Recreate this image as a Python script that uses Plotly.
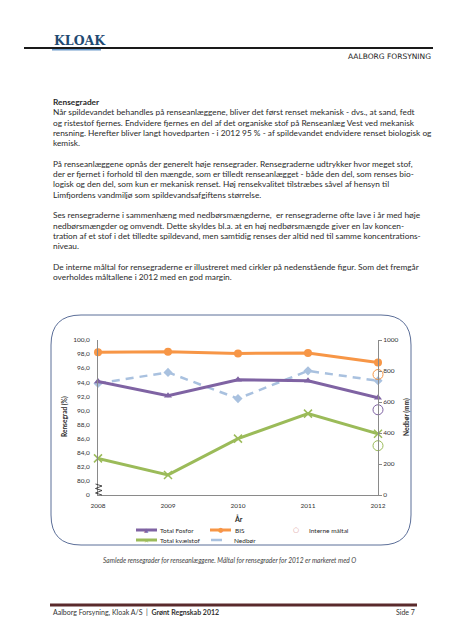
import plotly.graph_objects as go

# ---------------- data ----------------
years = [2008, 2009, 2010, 2011, 2012]
year_labels = ["2008", "2009", "2010", "2011", "2012"]
total_fosfor = [94.1, 92.1, 94.35, 94.2, 91.8]
bis = [98.25, 98.35, 98.1, 98.15, 96.8]
total_kvaelstof = [83.2, 80.85, 86.0, 89.55, 86.7]
nedboer = [720, 791, 622, 801, 737]
maal_years = [2012, 2012, 2012]
maal_values = [95.1, 90.1, 85.0]          # BIS, Total Fosfor, Total kvælstof
left_tickvals = [78, 80, 82, 84, 86, 88, 90, 92, 94, 96, 98, 100]
left_ticktext = ["0", "80,0", "82,0", "84,0", "86,0", "88,0", "90,0", "92,0", "94,0", "96,0", "98,0", "100,0"]
right_tickvals = [0, 200, 400, 600, 800, 1000]

body_lines = [
    "<b>Rensegrader</b>",
    "Når spildevandet behandles på renseanlæggene, bliver det først renset mekanisk - dvs., at sand, fedt",
    "og ristestof fjernes. Endvidere fjernes en del af det organiske stof på Renseanlæg Vest ved mekanisk",
    "rensning. Herefter bliver langt hovedparten - i 2012 95 % - af spildevandet endvidere renset biologisk og",
    "kemisk.",
    "",
    "På renseanlæggene opnås der generelt høje rensegrader. Rensegraderne udtrykker hvor meget stof,",
    "der er fjernet i forhold til den mængde, som er tilledt renseanlægget - både den del, som renses bio-",
    "logisk og den del, som kun er mekanisk renset. Høj rensekvalitet tilstræbes såvel af hensyn til",
    "Limfjordens vandmiljø som spildevandsafgiftens størrelse.",
    "",
    "Ses rensegraderne i sammenhæng med nedbørsmængderne,  er rensegraderne ofte lave i år med høje",
    "nedbørsmængder og omvendt. Dette skyldes bl.a. at en høj nedbørsmængde giver en lav koncen-",
    "tration af et stof i det tilledte spildevand, men samtidig renses der altid ned til samme koncentrations-",
    "niveau.",
    "",
    "De interne måltal for rensegraderne er illustreret med cirkler på nedenstående figur. Som det fremgår",
    "overholdes måltallene i 2012 med en god margin.",
]

C_FOSFOR = "#7F63A3"
C_BIS = "#F79646"
C_KVAEL = "#9BBB59"
C_NEDB = "#A9C1DF"
C_AXIS = "#8A8A8A"
C_TXT = "#2A2A2A"

W, H = 452, 640
PL, PR, PT, PB = 90, 370, 332, 487


def px(x):
    return (x - PL) / (PR - PL)


def py(y):
    return (PB - y) / (PB - PT)


fig = go.Figure()

fig.add_trace(go.Scatter(
    x=years, y=nedboer, name="Nedbør", yaxis="y", mode="lines+markers",
    line=dict(color=C_NEDB, width=2.5, dash="8px,6px"),
    marker=dict(symbol="diamond", size=7, color=C_NEDB),
    cliponaxis=False, showlegend=False))
fig.add_trace(go.Scatter(
    x=years, y=total_fosfor, name="Total Fosfor", yaxis="y2", mode="lines+markers",
    line=dict(color=C_FOSFOR, width=3),
    marker=dict(symbol="triangle-up", size=7, color=C_FOSFOR),
    cliponaxis=False, showlegend=False))
fig.add_trace(go.Scatter(
    x=years, y=bis, name="BIS", yaxis="y2", mode="lines+markers",
    line=dict(color=C_BIS, width=3),
    marker=dict(symbol="circle", size=8, color=C_BIS),
    cliponaxis=False, showlegend=False))
fig.add_trace(go.Scatter(
    x=years, y=total_kvaelstof, name="Total kvælstof", yaxis="y2", mode="lines+markers",
    line=dict(color=C_KVAEL, width=3),
    marker=dict(symbol="x-thin", size=8, color=C_KVAEL, line=dict(color=C_KVAEL, width=1.5)),
    cliponaxis=False, showlegend=False))
fig.add_trace(go.Scatter(
    x=maal_years, y=maal_values, name="Interne måltal", yaxis="y2", mode="markers",
    marker=dict(symbol="circle-open", size=10, color=[C_BIS, C_FOSFOR, C_KVAEL], line=dict(width=1)),
    cliponaxis=False, showlegend=False))

tickfont = dict(family="Lato, sans-serif", size=6.5, color="#333333")

fig.update_layout(
    width=W, height=H,
    margin=dict(l=PL, r=W - PR, t=PT, b=H - PB, pad=0),
    paper_bgcolor="white", plot_bgcolor="white",
    showlegend=False,
    xaxis=dict(range=[2008, 2012], tickvals=years, ticktext=year_labels,
               showline=True, linecolor=C_AXIS, linewidth=1, showgrid=False, zeroline=False,
               ticks="outside", ticklen=4, tickcolor="rgba(0,0,0,0)", tickfont=tickfont),
    yaxis=dict(side="right", range=[0, 1000], tickvals=right_tickvals,
               showline=True, linecolor=C_AXIS, linewidth=1, showgrid=False, zeroline=False,
               ticks="outside", ticklen=3, tickcolor=C_AXIS, tickfont=tickfont),
    yaxis2=dict(overlaying="y", side="left", range=[78, 100], tickvals=left_tickvals,
                ticktext=left_ticktext, showline=True, linecolor=C_AXIS, linewidth=1,
                showgrid=False, zeroline=False, ticks="outside", ticklen=6,
                tickcolor="rgba(0,0,0,0)", tickfont=tickfont),
)

shapes = []
annotations = []


def line_shape(x0, y0, x1, y1, color, width, dash=None):
    d = dict(type="line", xref="paper", yref="paper", x0=px(x0), y0=py(y0), x1=px(x1), y1=py(y1),
             line=dict(color=color, width=width))
    if dash:
        d["line"]["dash"] = dash
    shapes.append(d)


def text(x, y, s, size, color=C_TXT, family="Lato, sans-serif", xanchor="left", angle=0):
    annotations.append(dict(xref="paper", yref="paper", x=px(x), y=py(y), text=s, showarrow=False,
                            xanchor=xanchor, yanchor="middle", textangle=angle,
                            font=dict(family=family, size=size, color=color)))


# header
text(44, 32, "<b>KLOAK</b>", 12.5, color="#1F4A72", family="DejaVu Serif, serif")
line_shape(16, 40, 425, 40, "#1a1a1a", 2)
line_shape(44, 41.8, 93, 41.8, "#6E9CCB", 1.5)
text(425, 48.5, "AALBORG FORSYNING", 7.5, color="#222222", family="DejaVu Sans, sans-serif", xanchor="right")

# body text
y0 = 94.0
for i, s in enumerate(body_lines):
    if s:
        text(43, y0 + 10.3 * i, s, 8.3)

# chart frame (rounded rectangle)
bx0, bx1, by0, by1, r = 43, 403, 307, 537, 30
path = (f"M {px(bx0 + r)},{py(by0)} L {px(bx1 - r)},{py(by0)} "
        f"Q {px(bx1)},{py(by0)} {px(bx1)},{py(by0 + r)} "
        f"L {px(bx1)},{py(by1 - r)} Q {px(bx1)},{py(by1)} {px(bx1 - r)},{py(by1)} "
        f"L {px(bx0 + r)},{py(by1)} Q {px(bx0)},{py(by1)} {px(bx0)},{py(by1 - r)} "
        f"L {px(bx0)},{py(by0 + r)} Q {px(bx0)},{py(by0)} {px(bx0 + r)},{py(by0)} Z")
shapes.append(dict(type="path", xref="paper", yref="paper", path=path,
                   line=dict(color="#5B6E98", width=1), fillcolor="rgba(0,0,0,0)", layer="below"))

# axis break zigzag on left axis
zz = [(87.5, 476), (94, 478), (87.5, 480.5), (94, 482.5), (87.5, 485), (94, 487)]
zpath = "M " + " L ".join(f"{px(a)},{py(b)}" for a, b in zz)
shapes.append(dict(type="path", xref="paper", yref="paper", path=zpath,
                   line=dict(color="#222222", width=0.8)))

# axis titles
text(56, 409, "<b>Rensegrad (%)</b>", 6.5, angle=-90, xanchor="center")
text(398, 409, "<b>Nedbør (mm)</b>", 6.5, angle=-90, xanchor="center")
text(230, 510, "<b>År</b>", 7, xanchor="center")

# legend (drawn manually)
ly1, ly2 = 522, 532
legfont = 6.5
line_shape(128, ly1, 149, ly1, C_FOSFOR, 3)
text(138.5, ly1, "▲", 5.5, color=C_FOSFOR, family="DejaVu Sans", xanchor="center")
text(150, ly1, "Total Fosfor", legfont)
line_shape(202, ly1, 223, ly1, C_BIS, 3)
text(212.5, ly1, "●", 6.5, color=C_BIS, family="DejaVu Sans", xanchor="center")
text(225, ly1, "BIS", legfont)
text(288, ly1, "○", 7, color="#D99694", family="DejaVu Sans", xanchor="center")
text(299, ly1, "Interne måltal", legfont)
line_shape(128, ly2, 149, ly2, C_KVAEL, 3)
text(138.5, ly2, "✕", 6, color=C_KVAEL, family="DejaVu Sans", xanchor="center")
text(150, ly2, "Total kvælstof", legfont)
line_shape(203, ly2, 214, ly2, C_NEDB, 2.5)
text(224, ly2, "Nedbør", legfont)

# caption
text(93, 552, "<i>Samlede rensegrader for renseanlæggene. Måltal for rensegrader for 2012 er markeret med O</i>",
     6.6, color="#444444")

# footer
line_shape(42, 597, 409, 597, "#5A2A2C", 3)
text(43, 604, "Aalborg Forsyning, Kloak A/S  |  <b>Grønt Regnskab 2012</b>", 7, color="#333333")
text(409, 604, "Side 7", 7, color="#333333", xanchor="right")

fig.update_layout(shapes=shapes, annotations=annotations)
fig.write_html("out.html")
